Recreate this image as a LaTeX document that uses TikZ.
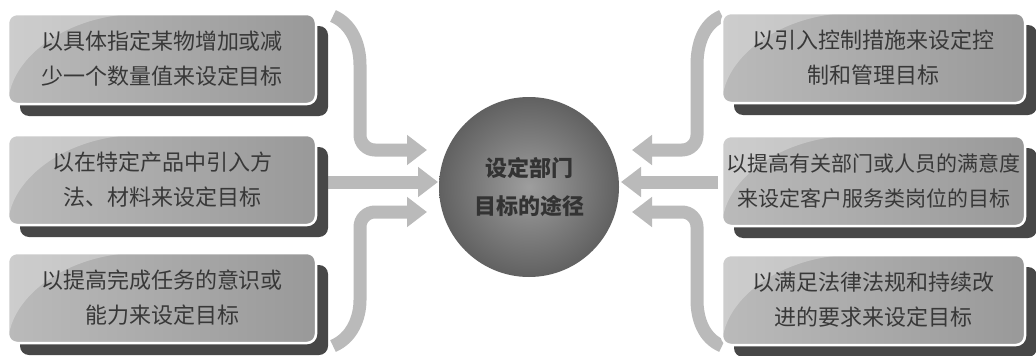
\documentclass[tikz,border=0pt]{standalone}
\usepackage{fontspec}
\newfontfamily\cjk{Noto Sans CJK SC}
\usetikzlibrary{arrows.meta,shadows,calc}
\tikzset{
  boxface/.style={rectangle, rounded corners=9pt, draw=white, line width=2.5pt,
    left color=black!27, right color=black!40,
    minimum width=#1, minimum height=90pt, inner sep=0pt,
    general shadow={fill=black!72, shadow xshift=12pt, shadow yshift=-12pt, rounded corners=10pt},
    path picture={\fill[white,opacity=.28]
      (path picture bounding box.north west) -- ($(path picture bounding box.north west)+(120,0)$)
      .. controls ($(path picture bounding box.north west)+(55,8)$) and ($(path picture bounding box.north west)+(12,40)$)
      .. ($(path picture bounding box.south west)+(0,-6)$) -- cycle;},
    text=black!78, font=\cjk\fontsize{22}{35}\selectfont, align=center},
  arr/.style={draw=black!27, line width=13pt, -{Triangle[width=29pt,length=20pt]}, rounded corners=15pt},
  hub/.style={circle, minimum size=180pt, inner sep=0pt, inner color=black!38, outer color=black!62,
    text=black!80, font=\cjk\bfseries\fontsize{22}{38}\selectfont, align=center},
}
\begin{document}
\begin{tikzpicture}[x=1pt,y=-1pt]
\useasboundingbox (0,0) rectangle (1036,356);
\fill[white] (0,0) rectangle (1036,356);
% coordinates for connectors
\coordinate (a1s) at (333,16);
\coordinate (a1t) at (427,150);
\coordinate (a2s) at (328,182);
\coordinate (a2t) at (438,182);
\coordinate (a3s) at (333,346);
\coordinate (a3t) at (427,212);
\coordinate (b1s) at (722,16);
\coordinate (b1t) at (632,150);
\coordinate (b2s) at (718,182);
\coordinate (b2t) at (621,182);
\coordinate (b3s) at (722,346);
\coordinate (b3t) at (632,212);
% connectors
\draw[arr] (a1s) .. controls (352,24) and (360,45) .. (360,80) |- (a1t);
\draw[arr] (a2s) -- (a2t);
\draw[arr] (a3s) .. controls (352,338) and (360,318) .. (360,285) |- (a3t);
\draw[arr] (b1s) .. controls (703,24) and (697,45) .. (697,80) |- (b1t);
\draw[arr] (b2s) -- (b2t);
\draw[arr] (b3s) .. controls (703,338) and (697,318) .. (697,285) |- (b3t);
% hub
\node[hub] (c) at (529,187) {设定部门\\目标的途径};
% boxes
\node[boxface=308pt] (l1) at (162,59) {以具体指定某物增加或减\\少一个数量值来设定目标};
\node[boxface=308pt] (l2) at (162,180) {以在特定产品中引入方\\法、材料来设定目标};
\node[boxface=308pt] (l3) at (162,298) {以提高完成任务的意识或\\能力来设定目标};
\node[boxface=303pt] (r1) at (873.5,58) {以引入控制措施来设定控\\制和管理目标};
\node[boxface=303pt, font=\cjk\fontsize{21}{35}\selectfont] (r2) at (873.5,181) {以提高有关部门或人员的满意度\\来设定客户服务类岗位的目标};
\node[boxface=303pt] (r3) at (873.5,300) {以满足法律法规和持续改\\进的要求来设定目标};
\end{tikzpicture}
\end{document}
